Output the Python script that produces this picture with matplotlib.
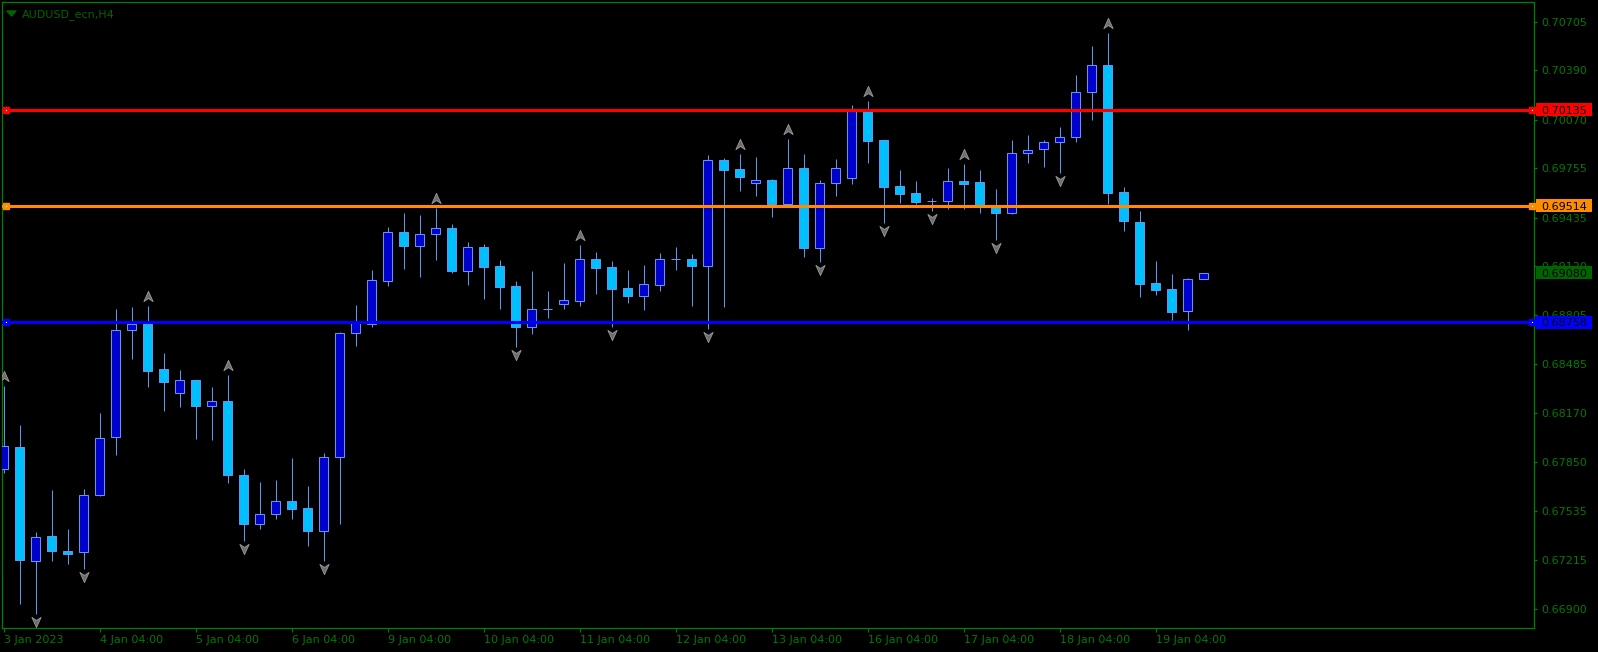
import matplotlib
matplotlib.use("Agg")
import matplotlib.pyplot as plt
import numpy as np
from matplotlib.path import Path
from matplotlib.patches import Rectangle
from matplotlib.transforms import IdentityTransform, ScaledTranslation, offset_copy

# ---------------- data (AUDUSD_ecn, H4, from 3 Jan 2023 04:00) ----------------
opens = [0.67810, 0.67951, 0.67209, 0.67371, 0.67276, 0.67267, 0.67636, 0.68012, 0.68706, 0.68746,
         0.68453, 0.68298, 0.68382, 0.68217, 0.68248, 0.67766, 0.67449, 0.67513, 0.67598, 0.67552,
         0.67407, 0.67883, 0.68686, 0.68746, 0.69027, 0.69341, 0.69254, 0.69328, 0.69367, 0.69092,
         0.69243, 0.69120, 0.68991, 0.68729, 0.68842, 0.68874, 0.68897, 0.69166, 0.69116, 0.68978,
         0.68930, 0.69001, 0.69166, 0.69166, 0.69124, 0.69807, 0.69751, 0.69658, 0.69677, 0.69524,
         0.69755, 0.69241, 0.69658, 0.69690, 0.70130, 0.69937, 0.69638, 0.69593, 0.69541, 0.69545,
         0.69671, 0.69664, 0.69504, 0.69467, 0.69852, 0.69878, 0.69924, 0.69956, 0.70248, 0.70423,
         0.69600, 0.69405, 0.69012, 0.68971, 0.68833, 0.69036]
highs = [0.68345, 0.68092, 0.67399, 0.67671, 0.67419, 0.67677, 0.68170, 0.68844, 0.68856, 0.68863,
         0.68559, 0.68448, 0.68382, 0.68338, 0.68416, 0.67807, 0.67723, 0.67736, 0.67878, 0.67699,
         0.67911, 0.68693, 0.68869, 0.69096, 0.69375, 0.69466, 0.69453, 0.69500, 0.69392, 0.69278,
         0.69265, 0.69161, 0.69025, 0.69090, 0.68960, 0.69142, 0.69258, 0.69213, 0.69155, 0.69096,
         0.69129, 0.69209, 0.69245, 0.69200, 0.69841, 0.69820, 0.69848, 0.69828, 0.69686, 0.69945,
         0.69848, 0.69679, 0.69815, 0.70165, 0.70191, 0.69937, 0.69744, 0.69673, 0.69563, 0.69759,
         0.69783, 0.69744, 0.69621, 0.69939, 0.69971, 0.69937, 0.70023, 0.70360, 0.70548, 0.70632,
         0.69634, 0.69478, 0.69155, 0.69070, 0.69044, 0.69080]
lows = [0.67779, 0.66934, 0.66868, 0.67213, 0.67193, 0.67161, 0.67630, 0.67900, 0.68520, 0.68340,
        0.68185, 0.68209, 0.68003, 0.67995, 0.67716, 0.67340, 0.67419, 0.67483, 0.67483, 0.67308,
        0.67213, 0.67451, 0.68606, 0.68727, 0.68995, 0.69105, 0.69053, 0.69163, 0.69079, 0.69001,
        0.68910, 0.68846, 0.68595, 0.68684, 0.68787, 0.68846, 0.68865, 0.68943, 0.68725, 0.68884,
        0.68840, 0.68962, 0.69098, 0.68865, 0.68716, 0.68858, 0.69610, 0.69578, 0.69442, 0.69517,
        0.69182, 0.69150, 0.69578, 0.69653, 0.69792, 0.69399, 0.69528, 0.69524, 0.69480, 0.69493,
        0.69493, 0.69466, 0.69291, 0.69462, 0.69792, 0.69766, 0.69723, 0.69928, 0.70068, 0.69524,
        0.69351, 0.68923, 0.68936, 0.68772, 0.68707, 0.69036]
closes = [0.67953, 0.67217, 0.67368, 0.67274, 0.67255, 0.67636, 0.68006, 0.68706, 0.68746, 0.68443,
          0.68373, 0.68382, 0.68217, 0.68246, 0.67770, 0.67449, 0.67513, 0.67598, 0.67550, 0.67407,
          0.67883, 0.68686, 0.68751, 0.69031, 0.69341, 0.69254, 0.69328, 0.69367, 0.69092, 0.69243,
          0.69118, 0.68988, 0.68729, 0.68842, 0.68842, 0.68900, 0.69166, 0.69111, 0.68975, 0.68930,
          0.69004, 0.69166, 0.69166, 0.69124, 0.69807, 0.69746, 0.69701, 0.69677, 0.69524, 0.69755,
          0.69241, 0.69658, 0.69755, 0.70130, 0.69934, 0.69636, 0.69591, 0.69539, 0.69541, 0.69671,
          0.69655, 0.69502, 0.69467, 0.69852, 0.69872, 0.69924, 0.69956, 0.70248, 0.70423, 0.69597,
          0.69416, 0.69008, 0.68969, 0.68826, 0.69036, 0.69080]

fractal_up_idx = [0, 9, 14, 27, 36, 46, 49, 54, 60, 69]
fractal_down_idx = [2, 5, 15, 20, 32, 38, 44, 51, 55, 58, 62, 66]

xtick_idx = [0, 6, 12, 18, 24, 30, 36, 42, 48, 54, 60, 66, 72]
xtick_labels = ["3 Jan 2023", "4 Jan 04:00", "5 Jan 04:00", "6 Jan 04:00", "9 Jan 04:00",
                "10 Jan 04:00", "11 Jan 04:00", "12 Jan 04:00", "13 Jan 04:00",
                "16 Jan 04:00", "17 Jan 04:00", "18 Jan 04:00", "19 Jan 04:00"]
ytick_values = [0.70705, 0.70390, 0.70070, 0.69755, 0.69435, 0.69120, 0.68805,
                0.68485, 0.68170, 0.67850, 0.67535, 0.67215, 0.66900]

level_prices = [0.70135, 0.69514, 0.68758]
level_colors = ["#FF0000", "#FF8C00", "#0000FF"]
current_price = 0.69080
symbol_title = "AUDUSD_ecn,H4"

# ---------------- style ----------------
BG = "#000000"
FRAME = "#008000"
TXT = "#007a00"
BULL = "#0000CD"
BEAR = "#00BFFF"
WICK = "#6495ED"
FRACT = "#6e6e6e"

W, H = 1598, 652
fig = plt.figure(figsize=(W / 100, H / 100), dpi=100, facecolor=BG)
ax_l, ax_r, ax_t, ax_b = 2.3, 1534.3, 2.3, 628.3
ax = fig.add_axes([ax_l / W, 1 - ax_b / H, (ax_r - ax_l) / W, (ax_b - ax_t) / H])
ax.set_facecolor(BG)

o = np.array(opens); h = np.array(highs); l = np.array(lows); c = np.array(closes)
x = np.arange(len(o))
up = c >= o

ax.vlines(x, l, h, color=WICK, lw=0.75, zorder=2)
ax.bar(x, np.abs(c - o), bottom=np.minimum(o, c), width=0.62,
       color=np.where(up, BULL, BEAR), edgecolor=WICK, linewidth=0.75, zorder=3)

# fractal arrows
up_path = Path([(0, 5), (4.5, -5), (0, -2), (-4.5, -5), (0, 5)],
               [Path.MOVETO, Path.LINETO, Path.LINETO, Path.LINETO, Path.CLOSEPOLY])
dn_path = Path([(0, -5), (4.5, 5), (0, 2), (-4.5, 5), (0, -5)],
               [Path.MOVETO, Path.LINETO, Path.LINETO, Path.LINETO, Path.CLOSEPOLY])
up_tr = offset_copy(ax.transData, fig=fig, x=0, y=10, units="dots")
dn_tr = offset_copy(ax.transData, fig=fig, x=0, y=-8, units="dots")
ax.plot(fractal_up_idx, h[fractal_up_idx], ls="none", marker=up_path, ms=7.4,
        mfc=FRACT, mec="#9a9a9a", mew=0.6, transform=up_tr, zorder=4)
ax.plot(fractal_down_idx, l[fractal_down_idx], ls="none", marker=dn_path, ms=7.4,
        mfc=FRACT, mec="#9a9a9a", mew=0.6, transform=dn_tr, zorder=4)

# horizontal levels
ytr = ax.get_yaxis_transform()
for p, col in zip(level_prices, level_colors):
    ax.axhline(p, color=col, lw=2.2, zorder=5)
    ax.plot([0.0022, 0.9982], [p, p], transform=ytr, ls="none", marker="s", ms=5,
            color=col, clip_on=False, zorder=6)
    ax.plot([0.0022, 0.9982], [p, p], transform=ytr, ls="none", marker="s", ms=0.8,
            color="white", mec="none", clip_on=False, zorder=7)

# price labels at the right
labels = [(p, col) for p, col in zip(level_prices, level_colors)] + [(current_price, "#006400")]
for p, col in labels:
    tr = IdentityTransform() + ScaledTranslation(1.0, p, ytr)
    ax.add_patch(Rectangle((1.7, -6.5), 55.5, 13, transform=tr, facecolor=col,
                           edgecolor="none", clip_on=False, zorder=8))
    ax.text(7.2, 0, f"{p:.5f}", transform=tr, ha="left", va="center_baseline",
            fontsize=8, color="black", clip_on=False, zorder=9)

# axes
ax.set_xlim((ax_l - 3.5) / 16, (ax_r - 3.5) / 16)
slope = 6.479e-5
p0 = 0.708456
ax.set_ylim(p0 - slope * ax_b, p0 - slope * ax_t)

ax.yaxis.tick_right()
ax.set_yticks(ytick_values)
ax.set_yticklabels([f"{v:.5f}" for v in ytick_values])
ax.set_xticks(xtick_idx)
ax.set_xticklabels(xtick_labels, ha="left")
ax.tick_params(axis="y", colors=FRAME, labelcolor=TXT, length=2.3, width=0.8, pad=3,
               labelsize=8, direction="out")
ax.tick_params(axis="x", colors=FRAME, labelcolor=TXT, length=3, width=0.8, pad=1.5,
               labelsize=8, direction="out")
for lbl in ax.get_xticklabels():
    lbl.set_horizontalalignment("left")
for s in ax.spines.values():
    s.set_color(FRAME)
    s.set_linewidth(0.9)

# title
tri = Path([(-4.5, 2.5), (4.5, 2.5), (0, -2.5), (-4.5, 2.5)],
           [Path.MOVETO, Path.LINETO, Path.LINETO, Path.CLOSEPOLY])
ax.plot([10.5 / W], [1 - 12.5 / H], transform=fig.transFigure, marker=tri, ms=6.5,
        color="#006400", ls="none", clip_on=False)
fig.text(21.5 / W, 1 - 12.7 / H, symbol_title, color="#006400", fontsize=8,
         ha="left", va="center_baseline")

fig.savefig("out.png", dpi=100, facecolor=BG)
